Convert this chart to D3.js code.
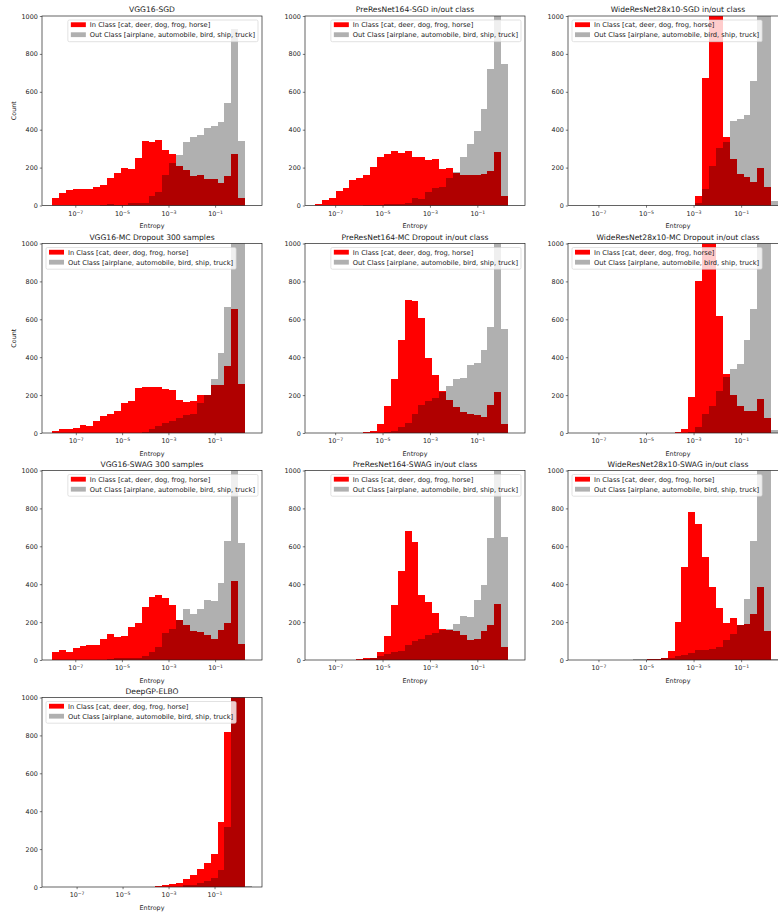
<!DOCTYPE html>
<html>
<head>
<meta charset="utf-8">
<script src="https://cdn.jsdelivr.net/npm/d3@7"></script>
<style>
body { margin: 0; background: #fff; }
svg text { font-family: "DejaVu Sans", sans-serif; fill: #1a1a1a; }
</style>
</head>
<body>
<script>
// panel titles, in reading order
var titles = ["VGG16-SGD", "PreResNet164-SGD in/out class", "WideResNet28x10-SGD in/out class",
              "VGG16-MC Dropout 300 samples", "PreResNet164-MC Dropout in/out class", "WideResNet28x10-MC Dropout in/out class",
              "VGG16-SWAG 300 samples", "PreResNet164-SWAG in/out class", "WideResNet28x10-SWAG in/out class",
              "DeepGP-ELBO"];

// log10 of the first bin edge and bin width (in decades), 29 bins per panel
var binStart = [-8.0, -7.85, -7.86, -8.03, -7.85, -7.86, -8.0, -7.85, -7.86, -8.07];
var binWidth = [0.296, 0.291, 0.29, 0.298, 0.291, 0.29, 0.296, 0.291, 0.29, 0.3];

// counts for in-class images
var inCounts = [
  [40,65,80,88,85,88,98,110,145,172,197,190,250,340,333,345,292,272,210,185,155,160,140,140,120,155,270,40,0],
  [10,30,40,75,90,135,145,160,205,255,270,285,275,285,255,255,240,245,195,200,170,160,160,160,165,180,280,50,0],
  [0,0,0,0,0,0,0,0,0,0,0,0,0,0,0,0,0,50,675,1300,1200,363,245,165,150,125,200,100,0],
  [10,20,22,28,40,35,65,92,100,118,158,168,240,245,243,242,232,225,175,165,168,200,198,255,255,355,655,257,0],
  [0,0,0,0,0,0,0,5,12,45,140,285,490,700,695,605,395,305,220,175,135,110,100,95,85,150,215,45,0],
  [0,0,0,0,0,0,0,0,0,0,0,0,0,0,5,20,190,800,1300,1200,615,310,200,140,115,115,180,80,0],
  [42,55,42,62,75,80,80,112,135,120,125,175,195,278,335,345,328,292,212,185,152,148,132,112,158,195,415,85,0],
  [0,0,0,0,0,0,3,8,12,40,125,290,470,680,625,345,305,250,165,160,155,130,105,112,155,185,295,68,0],
  [0,0,0,0,0,0,0,0,0,0,3,4,10,45,200,490,780,720,545,385,275,195,222,186,188,245,385,152,0],
  [0,0,0,0,0,0,0,0,0,0,0,0,0,0,0,3,12,18,22,40,65,95,125,175,345,820,1500,1500,0]
];

// counts for out-of-class images
var outCounts = [
  [0,0,0,0,0,0,0,2,8,5,3,12,15,12,50,72,160,222,265,335,360,370,410,420,440,540,930,340,0],
  [0,0,0,0,0,0,0,2,3,4,6,7,10,15,40,35,70,90,95,145,178,255,325,395,510,720,1150,745,0],
  [0,0,0,0,0,0,0,0,0,0,0,0,0,0,0,0,0,15,85,210,305,335,445,455,480,655,1300,1400,25],
  [0,0,0,0,0,0,0,0,0,0,0,1,2,5,20,35,55,65,80,95,100,160,200,285,420,665,1300,1100,0],
  [0,0,0,0,0,0,0,0,0,0,3,10,30,55,100,150,170,185,215,250,283,290,360,368,440,560,1200,548,0],
  [0,0,0,0,0,0,0,0,0,0,0,0,0,0,0,0,3,30,100,145,220,295,340,365,490,655,1300,1400,18],
  [0,0,0,0,0,0,0,2,5,8,10,10,12,20,40,70,140,165,210,268,245,268,315,312,405,630,1300,615,0],
  [0,0,0,0,0,0,2,5,8,20,30,40,48,80,100,112,130,145,160,162,190,230,228,315,398,645,1300,650,0],
  [0,0,0,0,0,0,0,0,4,4,5,6,8,12,20,25,35,55,52,58,70,105,135,185,320,630,1300,1400,5],
  [0,0,0,0,0,0,0,0,0,0,0,0,0,0,0,0,0,0,0,8,12,20,30,50,90,315,1500,1500,5]
];

var yTicks = [0, 200, 400, 600, 800, 1000];
var xTickExp = [-7, -5, -3, -1];
var legendLabels = ["In Class [cat, deer, dog, frog, horse]", "Out Class [airplane, automobile, bird, ship, truck]"];

// layout
var legendSide = ["right","right","left","left","right","left","right","right","left","left"];
var showCount = [true,false,false,true,false,false,false,false,false,false];
var colLeft = [42, 305, 568], rowTop = [16, 243.5, 470.5, 697.5];
var pw = 220, ph = 189.5;
var RED = "#ff0000", GRAY = "#b0b0b0", DARK = "#b00000";

var svg = d3.select("body").append("svg")
    .attr("width", 778)
    .attr("height", 913);

titles.forEach(function(title, i) {
  var col = i % 3, row = Math.floor(i / 3);
  var nb = inCounts[i].length;
  var lo = binStart[i], w = binWidth[i], hi = lo + nb * w, m = 0.05 * (hi - lo);

  var x = d3.scaleLog().domain([Math.pow(10, lo - m), Math.pow(10, hi + m)]).range([0, pw]);
  var y = d3.scaleLinear().domain([0, 1000]).range([ph, 0]);

  var bins = d3.range(nb).map(function(k) {
    return {x0: Math.pow(10, lo + k * w), x1: Math.pow(10, lo + (k + 1) * w),
            a: inCounts[i][k], b: outCounts[i][k]};
  });

  var g = svg.append("g")
      .attr("transform", "translate(" + colLeft[col] + "," + rowTop[row] + ")");

  svg.append("clipPath").attr("id", "clip" + i)
    .append("rect").attr("width", pw).attr("height", ph);

  var bars = g.append("g").attr("clip-path", "url(#clip" + i + ")")
      .attr("shape-rendering", "crispEdges");

  function drawBars(val, color) {
    bars.selectAll(null)
        .data(bins.filter(function(d) { return val(d) > 0; }))
      .enter().append("rect")
        .attr("x", function(d) { return x(d.x0); })
        .attr("width", function(d) { return x(d.x1) - x(d.x0); })
        .attr("y", function(d) { return y(val(d)); })
        .attr("height", function(d) { return ph - y(val(d)); })
        .attr("fill", color);
  }
  drawBars(function(d) { return d.a; }, RED);
  drawBars(function(d) { return d.b; }, GRAY);
  drawBars(function(d) { return Math.min(d.a, d.b); }, DARK);

  // axes
  var xa = g.append("g")
      .attr("transform", "translate(0," + ph + ")")
      .call(d3.axisBottom(x).tickValues(xTickExp.map(function(e) { return Math.pow(10, e); }))
            .tickSize(2.2).tickPadding(3.5));
  xa.selectAll(".tick text").text(null).each(function(d) {
    var e = Math.round(Math.log10(d));
    var t = d3.select(this);
    t.append("tspan").text("10");
    t.append("tspan").attr("dy", "-0.45em").attr("font-size", "0.72em").text("\u2212" + Math.abs(e));
  });
  var ya = g.append("g")
      .call(d3.axisLeft(y).tickValues(yTicks).tickFormat(d3.format("d")).tickSize(2.2).tickPadding(2));
  [xa, ya].forEach(function(a) {
    a.attr("font-size", 6.4).attr("font-family", null);
    a.select(".domain").remove();
    a.selectAll(".tick line").attr("stroke", "#222").attr("stroke-width", 0.6);
  });

  g.append("rect")
      .attr("width", pw).attr("height", ph)
      .attr("fill", "none").attr("stroke", "#222").attr("stroke-width", 0.7);

  g.append("text")
      .attr("x", pw / 2).attr("y", -3.6)
      .attr("text-anchor", "middle")
      .attr("font-size", 7.6)
      .text(title);

  g.append("text")
      .attr("x", pw / 2).attr("y", ph + 22.8)
      .attr("text-anchor", "middle")
      .attr("font-size", 6.4)
      .text("Entropy");

  if (showCount[i]) {
    g.append("text")
        .attr("transform", "translate(-26," + (ph / 2) + ") rotate(-90)")
        .attr("text-anchor", "middle")
        .attr("font-size", 6.4)
        .text("Count");
  }

  // legend
  var lg = g.append("g");
  var box = lg.append("rect")
      .attr("rx", 1.5).attr("ry", 1.5)
      .attr("height", 21.7)
      .attr("fill", "#fff").attr("fill-opacity", 0.8)
      .attr("stroke", "#cfcfcf").attr("stroke-width", 0.6);
  var maxLen = 0;
  legendLabels.forEach(function(lab, j) {
    lg.append("rect")
        .attr("x", 3).attr("y", 4.7 + 10 * j - 2.4)
        .attr("width", 15).attr("height", 4.8)
        .attr("fill", j === 0 ? RED : GRAY);
    var t = lg.append("text")
        .attr("x", 22).attr("y", 4.7 + 10 * j + 2.3)
        .attr("font-size", 6.7)
        .text(lab);
    maxLen = Math.max(maxLen, t.node().getComputedTextLength());
  });
  var bw = 22 + maxLen + 3;
  box.attr("width", bw);
  var lx = legendSide[i] === "right" ? pw - 4 - bw : 4;
  lg.attr("transform", "translate(" + lx + ",4)");
});
</script>
</body>
</html>
